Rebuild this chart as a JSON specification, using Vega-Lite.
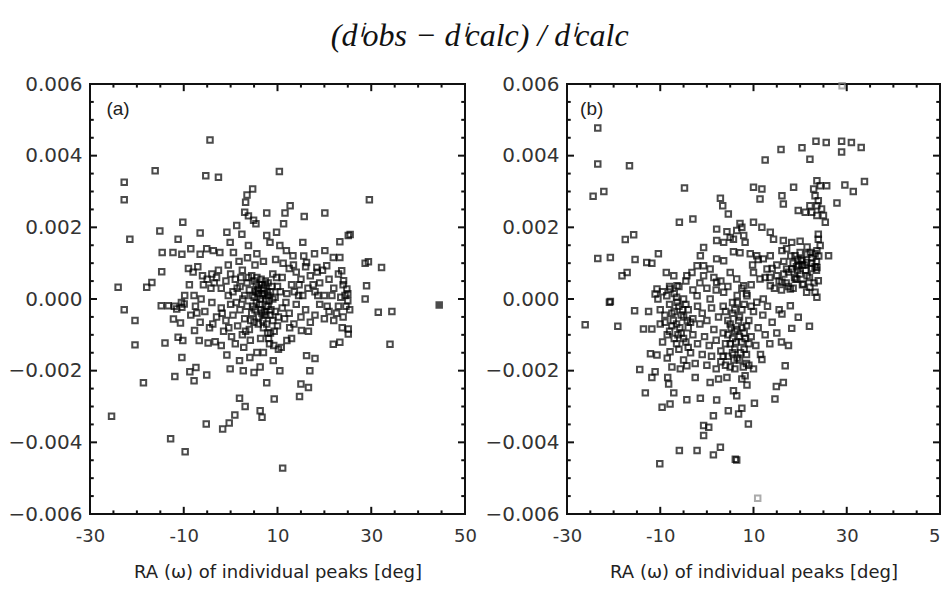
{
  "$schema": "https://vega.github.io/schema/vega-lite/v6.json",
  "background": "white",
  "padding": {"left": 6, "top": 20, "right": 0, "bottom": 0},
  "title": {"text": "(dⁱobs − dⁱcalc) / dⁱcalc", "font": "Liberation Serif", "fontStyle": "italic", "fontWeight": "normal", "fontSize": 32, "color": "#111", "anchor": "middle", "offset": 20},
  "config": {
    "view": {"stroke": "#111", "strokeWidth": 2},
    "axis": {"domain": false, "grid": false, "ticks": false, "labelFont": "DejaVu Sans", "labelFontSize": 18, "labelColor": "#333", "titleFont": "DejaVu Sans", "titleFontSize": 18, "titleFontWeight": "normal", "titleColor": "#222", "labelFlush": false, "labelOverlap": false},
    "rule": {"strokeWidth": 2, "color": "#111"}
  },
  "datasets": {
    "xt": [{"v": -30, "kind": "major"}, {"v": -25, "kind": "minor"}, {"v": -20, "kind": "minor"}, {"v": -15, "kind": "minor"}, {"v": -10, "kind": "major"}, {"v": -5, "kind": "minor"}, {"v": 0, "kind": "minor"}, {"v": 5, "kind": "minor"}, {"v": 10, "kind": "major"}, {"v": 15, "kind": "minor"}, {"v": 20, "kind": "minor"}, {"v": 25, "kind": "minor"}, {"v": 30, "kind": "major"}, {"v": 35, "kind": "minor"}, {"v": 40, "kind": "minor"}, {"v": 45, "kind": "minor"}, {"v": 50, "kind": "major"}],
    "yt": [{"v": -0.006, "kind": "major"}, {"v": -0.0055, "kind": "minor"}, {"v": -0.005, "kind": "minor"}, {"v": -0.0045, "kind": "minor"}, {"v": -0.004, "kind": "major"}, {"v": -0.0035, "kind": "minor"}, {"v": -0.003, "kind": "minor"}, {"v": -0.0025, "kind": "minor"}, {"v": -0.002, "kind": "major"}, {"v": -0.0015, "kind": "minor"}, {"v": -0.001, "kind": "minor"}, {"v": -0.0005, "kind": "minor"}, {"v": 0, "kind": "major"}, {"v": 0.0005, "kind": "minor"}, {"v": 0.001, "kind": "minor"}, {"v": 0.0015, "kind": "minor"}, {"v": 0.002, "kind": "major"}, {"v": 0.0025, "kind": "minor"}, {"v": 0.003, "kind": "minor"}, {"v": 0.0035, "kind": "minor"}, {"v": 0.004, "kind": "major"}, {"v": 0.0045, "kind": "minor"}, {"v": 0.005, "kind": "minor"}, {"v": 0.0055, "kind": "minor"}, {"v": 0.006, "kind": "major"}],
    "a": [
      {"ra": -4.4, "d": 0.00444}, {"ra": -16.1, "d": 0.00358}, {"ra": -22.7, "d": 0.00326}, {"ra": -22.7, "d": 0.00277}, {"ra": -5.3, "d": 0.00344}, {"ra": -2.6, "d": 0.0034}, {"ra": 10.4, "d": 0.00356}, {"ra": 29.6, "d": 0.00277}, {"ra": 4.7, "d": 0.00307}, {"ra": 3.5, "d": 0.0029}, {"ra": 3.2, "d": 0.0027}, {"ra": 3.0, "d": 0.00242}, {"ra": 3.8, "d": 0.00232}, {"ra": 4.9, "d": 0.0022}, {"ra": 5.4, "d": 0.0021}, {"ra": 7.7, "d": 0.0024}, {"ra": 12.7, "d": 0.0026}, {"ra": 11.6, "d": 0.0024}, {"ra": 11.3, "d": 0.0021}, {"ra": 15.7, "d": 0.0023}, {"ra": 20.1, "d": 0.0024}, {"ra": -10.2, "d": 0.00214}, {"ra": -15.1, "d": 0.0019}, {"ra": -6.5, "d": 0.00184}, {"ra": -21.5, "d": 0.00167}, {"ra": -11.2, "d": 0.00167}, {"ra": -14.6, "d": 0.0013}, {"ra": -12.3, "d": 0.0013}, {"ra": -10.4, "d": 0.00125}, {"ra": -8.5, "d": 0.0014}, {"ra": -14.7, "d": 0.00076}, {"ra": -16.8, "d": 0.00046}, {"ra": -17.9, "d": 0.00033}, {"ra": -24.0, "d": 0.00033}, {"ra": 25.5, "d": 0.0018}, {"ra": 23.3, "d": 0.0016}, {"ra": 29.4, "d": 0.00104}, {"ra": 28.7, "d": 0.001}, {"ra": 32.2, "d": 0.00088}, {"ra": 29.0, "d": 0.00037}, {"ra": 28.7, "d": 0.0}, {"ra": 44.5, "d": -0.00017, "f": 1},
      {"ra": -22.7, "d": -0.0003}, {"ra": -20.4, "d": -0.0006}, {"ra": -20.4, "d": -0.00128}, {"ra": -18.6, "d": -0.00234}, {"ra": -25.4, "d": -0.00327}, {"ra": -12.8, "d": -0.0039}, {"ra": -9.7, "d": -0.00426}, {"ra": 11.1, "d": -0.00472}, {"ra": -5.2, "d": -0.00349}, {"ra": -1.7, "d": -0.00363}, {"ra": -0.3, "d": -0.00346}, {"ra": 0.9, "d": -0.00324}, {"ra": 1.9, "d": -0.00277}, {"ra": 3.1, "d": -0.003}, {"ra": 6.3, "d": -0.00312}, {"ra": 6.7, "d": -0.0033}, {"ra": 9.3, "d": -0.00279}, {"ra": 7.7, "d": -0.00234}, {"ra": 14.7, "d": -0.00272}, {"ra": 15.0, "d": -0.00237}, {"ra": 16.6, "d": -0.00247}, {"ra": 16.9, "d": -0.002}, {"ra": 16.2, "d": -0.00158}, {"ra": 18.0, "d": -0.00166}, {"ra": -11.9, "d": -0.00216}, {"ra": -8.7, "d": -0.00203}, {"ra": -7.8, "d": -0.00228}, {"ra": -7.4, "d": -0.00191}, {"ra": -5.1, "d": -0.00212}, {"ra": -10.4, "d": -0.00163}, {"ra": -0.1, "d": -0.00195}, {"ra": 2.7, "d": -0.002}, {"ra": 5.0, "d": -0.00205}, {"ra": 6.3, "d": -0.0019}, {"ra": 10.5, "d": -0.002}, {"ra": -14.0, "d": -0.00123}, {"ra": -11.2, "d": -0.00107}, {"ra": -10.2, "d": -0.00116}, {"ra": -7.7, "d": -0.00088}, {"ra": -6.7, "d": -0.00116}, {"ra": -4.8, "d": -0.00123}, {"ra": -3.3, "d": -0.00119}, {"ra": 34.0, "d": -0.00126}, {"ra": 31.5, "d": -0.00037}, {"ra": 34.4, "d": -0.00035}, {"ra": 21.9, "d": -0.00126}, {"ra": 23.3, "d": -0.00121}, {"ra": 25.1, "d": -0.00084}, {"ra": 25.1, "d": -0.00098}, {"ra": -14.8, "d": -0.00019}, {"ra": -13.3, "d": -0.00019}, {"ra": -11.5, "d": -0.00028}, {"ra": -10.4, "d": -0.00023}, {"ra": -9.9, "d": -0.00014}, {"ra": -12.2, "d": -0.00056}, {"ra": -10.7, "d": -0.00067}, {"ra": -7.2, "d": -0.00039}, {"ra": 12.0, "d": -0.00116}, {"ra": 15.1, "d": -0.00088},
      {"ra": -0.8, "d": -0.00156}, {"ra": 1.9, "d": -0.00172}, {"ra": 4.1, "d": -0.00163}, {"ra": 5.6, "d": -0.00149}, {"ra": 7.0, "d": -0.00149}, {"ra": 9.1, "d": -0.00172}, {"ra": 10.2, "d": -0.0014},
      {"ra": -5.1, "d": 0.0014}, {"ra": -3.7, "d": 0.00135}, {"ra": -2.3, "d": 0.0013}, {"ra": -0.8, "d": 0.00186}, {"ra": -0.1, "d": 0.00158}, {"ra": 0.6, "d": 0.0013}, {"ra": 1.3, "d": 0.00205}, {"ra": 2.4, "d": 0.00181}, {"ra": 3.8, "d": 0.00149}, {"ra": 5.6, "d": 0.00126}, {"ra": 7.7, "d": 0.00177}, {"ra": 8.4, "d": 0.00158}, {"ra": 9.8, "d": 0.00186}, {"ra": 10.5, "d": 0.00149}, {"ra": 11.9, "d": 0.00135}, {"ra": 13.3, "d": 0.00121}, {"ra": 15.4, "d": 0.00158}, {"ra": 17.9, "d": 0.00126}, {"ra": 20.1, "d": 0.00135}, {"ra": 21.9, "d": 0.00116}, {"ra": 23.3, "d": 0.00116}, {"ra": 25.1, "d": 0.00177}, {"ra": 16.2, "d": 0.00102}, {"ra": 18.4, "d": 0.00088}, {"ra": 20.5, "d": 0.00093}, {"ra": 23.7, "d": 0.00079}, {"ra": 24.1, "d": 0.00051}, {"ra": 24.8, "d": 0.00028},
      {"ra": -9.0, "d": 0.00085}, {"ra": -8.0, "d": 0.00075}, {"ra": -7.0, "d": 0.0009}, {"ra": -6.0, "d": 0.00065}, {"ra": -5.0, "d": 0.00055}, {"ra": -4.0, "d": 0.0007}, {"ra": -3.5, "d": 0.00045}, {"ra": -3.0, "d": 0.0006}, {"ra": -2.0, "d": 0.0003}, {"ra": -1.0, "d": 0.0005}, {"ra": 0.0, "d": 0.0007}, {"ra": 0.5, "d": 0.0002}, {"ra": 1.0, "d": 0.00055}, {"ra": 2.0, "d": 0.00035}, {"ra": 2.5, "d": 0.0008}, {"ra": 3.0, "d": 0.0001}, {"ra": 3.5, "d": 0.00045}, {"ra": 4.0, "d": 0.00025}, {"ra": 4.5, "d": 0.00065}, {"ra": 5.0, "d": 0.00005}, {"ra": 5.5, "d": 0.0004}, {"ra": 6.0, "d": 0.00015}, {"ra": 6.5, "d": 0.00055}, {"ra": 7.0, "d": 0.0003}, {"ra": 7.5, "d": 0.0}, {"ra": 8.0, "d": 0.00045}, {"ra": 8.5, "d": 0.0002}, {"ra": 9.0, "d": 0.0007}, {"ra": 9.5, "d": 0.00005}, {"ra": 10.0, "d": 0.00035}, {"ra": 11.0, "d": 0.0006}, {"ra": 12.0, "d": 0.00015}, {"ra": 12.5, "d": 0.00085}, {"ra": 13.0, "d": 0.0004}, {"ra": 14.0, "d": 0.00075}, {"ra": 14.5, "d": 0.0001}, {"ra": 15.0, "d": 0.00055}, {"ra": 16.0, "d": 0.0009}, {"ra": 16.5, "d": 0.0003}, {"ra": 17.0, "d": 0.00065}, {"ra": 18.0, "d": 0.0002}, {"ra": 18.5, "d": 0.00075}, {"ra": 19.0, "d": 0.00045}, {"ra": 20.0, "d": 0.0001}, {"ra": 21.0, "d": 0.00055}, {"ra": 22.0, "d": 0.0003}, {"ra": 23.0, "d": 0.0007}, {"ra": 23.5, "d": 0.00005}, {"ra": 24.0, "d": 0.0004}, {"ra": 25.0, "d": 0.00015},
      {"ra": -8.5, "d": -0.00045}, {"ra": -7.5, "d": -0.0002}, {"ra": -6.5, "d": -0.00065}, {"ra": -5.5, "d": -0.00035}, {"ra": -4.5, "d": -0.0008}, {"ra": -4.0, "d": -0.0001}, {"ra": -3.0, "d": -0.0005}, {"ra": -2.0, "d": -0.00025}, {"ra": -1.5, "d": -0.0009}, {"ra": -1.0, "d": -0.0006}, {"ra": 0.0, "d": -0.00015}, {"ra": 0.5, "d": -0.00045}, {"ra": 1.5, "d": -0.00075}, {"ra": 2.0, "d": -0.0003}, {"ra": 2.5, "d": -0.001}, {"ra": 3.0, "d": -0.00055}, {"ra": 3.5, "d": -0.0002}, {"ra": 4.0, "d": -0.00085}, {"ra": 4.5, "d": -0.0004}, {"ra": 5.0, "d": -0.00065}, {"ra": 5.5, "d": -0.0001}, {"ra": 6.0, "d": -0.0005}, {"ra": 6.5, "d": -0.0003}, {"ra": 7.0, "d": -0.0008}, {"ra": 7.5, "d": -0.00045}, {"ra": 8.0, "d": -0.0002}, {"ra": 8.5, "d": -0.00095}, {"ra": 9.0, "d": -0.0006}, {"ra": 9.5, "d": -0.00035}, {"ra": 10.0, "d": -0.00075}, {"ra": 11.0, "d": -0.00025}, {"ra": 11.5, "d": -0.00055}, {"ra": 12.5, "d": -0.0004}, {"ra": 13.5, "d": -0.0007}, {"ra": 14.0, "d": -0.00015}, {"ra": 15.0, "d": -0.0005}, {"ra": 16.0, "d": -0.0003}, {"ra": 17.0, "d": -0.00065}, {"ra": 18.0, "d": -0.00045}, {"ra": 19.0, "d": -0.00015}, {"ra": 20.0, "d": -0.00055}, {"ra": 21.0, "d": -0.00035}, {"ra": 22.0, "d": -0.0006}, {"ra": 23.0, "d": -0.0002}, {"ra": 24.0, "d": -0.0005}, {"ra": 25.0, "d": -0.00005},
      {"ra": 5.8, "d": 0.00025}, {"ra": 6.2, "d": -0.00015}, {"ra": 6.8, "d": 0.0001}, {"ra": 7.2, "d": -0.00035}, {"ra": 7.8, "d": 0.0002}, {"ra": 8.2, "d": -0.00005}, {"ra": 8.8, "d": 0.00035}, {"ra": 5.2, "d": -0.0003}, {"ra": 6.6, "d": 0.0004}, {"ra": 7.4, "d": 0.0005}, {"ra": 8.4, "d": -0.00045}, {"ra": 5.6, "d": 0.0006}, {"ra": 6.9, "d": -0.0006}, {"ra": 7.7, "d": -0.0007}, {"ra": 8.1, "d": -0.0011}, {"ra": 8.3, "d": -0.00125}, {"ra": 7.9, "d": -0.00095}, {"ra": 6.4, "d": -0.0011}, {"ra": 9.2, "d": -0.0013}, {"ra": 4.2, "d": -0.00115}, {"ra": 2.8, "d": -0.00135}, {"ra": 1.0, "d": -0.00125}, {"ra": 0.2, "d": -0.00105}, {"ra": -2.0, "d": -0.0013}, {"ra": 10.8, "d": -0.00135}, {"ra": 13.0, "d": -0.0011}, {"ra": -0.5, "d": 0.00095}, {"ra": 1.8, "d": 0.00105}, {"ra": 3.6, "d": 0.00115}, {"ra": 5.2, "d": 0.00095}, {"ra": 7.0, "d": 0.00105}, {"ra": 9.6, "d": 0.0011}, {"ra": 11.2, "d": 0.001}, {"ra": 13.4, "d": 0.00095}, {"ra": 15.6, "d": 0.0012}, {"ra": -6.5, "d": 0.00125}, {"ra": -8.8, "d": 0.0004}, {"ra": -9.8, "d": 0.0001}, {"ra": -10.5, "d": -0.0001}, {"ra": -12.0, "d": -0.0002},
      {"ra": 6.0, "d": 0.0003}, {"ra": 6.4, "d": 0.0}, {"ra": 7.1, "d": 0.00015}, {"ra": 7.6, "d": -0.0002}, {"ra": 8.0, "d": 0.0001}, {"ra": 5.4, "d": 0.0002}, {"ra": 6.7, "d": -0.0004}, {"ra": 7.3, "d": 0.0004}, {"ra": 8.6, "d": -0.0003}, {"ra": 5.9, "d": -0.0007}, {"ra": 4.6, "d": 0.0001}, {"ra": 9.0, "d": 0.0}, {"ra": 4.8, "d": -0.0002}, {"ra": 3.8, "d": 0.0006}, {"ra": 2.6, "d": 0.0}, {"ra": 1.4, "d": 0.0003}, {"ra": -0.5, "d": 0.0001}, {"ra": -2.6, "d": 0.0008}, {"ra": -4.2, "d": 0.0003}, {"ra": -6.3, "d": 0.0}, {"ra": 10.6, "d": 0.0002}, {"ra": 11.8, "d": -0.0001}, {"ra": 13.6, "d": 0.0002}, {"ra": 15.4, "d": 0.0001}, {"ra": 17.6, "d": 0.0004}, {"ra": 19.6, "d": 0.0008}, {"ra": 21.6, "d": 0.0001}, {"ra": 22.6, "d": -0.0004}, {"ra": 24.6, "d": -0.0002}, {"ra": 20.6, "d": -0.0002},
      {"ra": 4.3, "d": -0.0006}, {"ra": 5.1, "d": 0.0005}, {"ra": 9.3, "d": -0.0009}, {"ra": 9.8, "d": 0.0006}, {"ra": 3.2, "d": -0.0009}, {"ra": 2.2, "d": 0.0006}, {"ra": -1.8, "d": -0.0004}, {"ra": -3.8, "d": -0.0007}, {"ra": -5.8, "d": 0.0004}, {"ra": -7.8, "d": 0.0001}, {"ra": 12.6, "d": -0.0008}, {"ra": 14.6, "d": 0.0004}, {"ra": 16.6, "d": -0.0009}, {"ra": 18.6, "d": 0.0001}, {"ra": 23.8, "d": -0.0008}, {"ra": 24.4, "d": 0.0001}, {"ra": 25.4, "d": -0.0003}, {"ra": 1.2, "d": -0.0001}, {"ra": -0.4, "d": -0.0008}, {"ra": 10.2, "d": -0.0005}
    ],
    "b": [
      {"ra": -23.4, "d": 0.00477}, {"ra": -23.4, "d": 0.00377}, {"ra": -24.4, "d": 0.00287}, {"ra": -22.1, "d": 0.003}, {"ra": -16.6, "d": 0.00372}, {"ra": -4.8, "d": 0.0031}, {"ra": -5.9, "d": 0.00214}, {"ra": -3.0, "d": 0.00223}, {"ra": -17.5, "d": 0.00166}, {"ra": -15.7, "d": 0.00179}, {"ra": -23.4, "d": 0.00113}, {"ra": -20.7, "d": 0.00116}, {"ra": -15.4, "d": 0.0011}, {"ra": -11.8, "d": 0.001}, {"ra": -10.4, "d": 0.00126}, {"ra": -12.9, "d": 0.00102}, {"ra": -18.2, "d": 0.00065}, {"ra": -17.1, "d": 0.00074}, {"ra": -20.7, "d": -0.00007}, {"ra": -8.7, "d": 0.00074},
      {"ra": 12.5, "d": 0.00388}, {"ra": 15.9, "d": 0.00417}, {"ra": 20.4, "d": 0.00422}, {"ra": 22.1, "d": 0.0039}, {"ra": 23.4, "d": 0.0044}, {"ra": 25.6, "d": 0.00437}, {"ra": 28.9, "d": 0.0044}, {"ra": 28.9, "d": 0.0041}, {"ra": 31.0, "d": 0.00437}, {"ra": 33.1, "d": 0.00423}, {"ra": 33.8, "d": 0.00328}, {"ra": 29.6, "d": 0.00318}, {"ra": 31.4, "d": 0.003}, {"ra": 27.9, "d": 0.00268}, {"ra": 10.0, "d": 0.00312}, {"ra": 11.8, "d": 0.00307}, {"ra": 11.4, "d": 0.00279}, {"ra": 16.1, "d": 0.00288}, {"ra": 16.4, "d": 0.00265}, {"ra": 18.6, "d": 0.00312}, {"ra": 29.0, "d": 0.00595, "g": 1},
      {"ra": 23.6, "d": 0.0033}, {"ra": 24.3, "d": 0.00316}, {"ra": 22.9, "d": 0.00307}, {"ra": 25.7, "d": 0.00316}, {"ra": 23.2, "d": 0.00288}, {"ra": 23.9, "d": 0.00274}, {"ra": 22.1, "d": 0.0026}, {"ra": 23.6, "d": 0.0026}, {"ra": 24.6, "d": 0.00251}, {"ra": 25.0, "d": 0.00233}, {"ra": 23.6, "d": 0.00233}, {"ra": 25.4, "d": 0.00214}, {"ra": 19.6, "d": 0.00247}, {"ra": 21.1, "d": 0.00242}, {"ra": 22.5, "d": 0.00242},
      {"ra": 23.9, "d": 0.00181}, {"ra": 23.9, "d": 0.00167}, {"ra": 24.3, "d": 0.00149}, {"ra": 23.6, "d": 0.00135}, {"ra": 23.2, "d": 0.00126}, {"ra": 26.1, "d": 0.00121}, {"ra": 20.4, "d": 0.00107}, {"ra": 19.6, "d": 0.00093}, {"ra": 18.2, "d": 0.00084}, {"ra": 21.4, "d": 0.00102}, {"ra": 23.6, "d": 0.00088}, {"ra": 23.9, "d": 0.00051}, {"ra": 23.2, "d": 0.00019}, {"ra": 22.1, "d": 0.00033}, {"ra": 21.4, "d": 0.00019}, {"ra": 23.6, "d": 0.00005},
      {"ra": 2.9, "d": 0.00281}, {"ra": 3.4, "d": 0.0026}, {"ra": 4.6, "d": 0.00237}, {"ra": 2.1, "d": 0.00195}, {"ra": 4.3, "d": 0.00188}, {"ra": 6.4, "d": 0.00191}, {"ra": 5.7, "d": 0.00167}, {"ra": 7.1, "d": 0.00211}, {"ra": 7.5, "d": 0.002}, {"ra": 7.9, "d": 0.00177}, {"ra": 10.0, "d": 0.00214}, {"ra": 11.8, "d": 0.002}, {"ra": 13.6, "d": 0.00186}, {"ra": 14.3, "d": 0.00167}, {"ra": 16.4, "d": 0.00163}, {"ra": 18.2, "d": 0.00158}, {"ra": 20.0, "d": 0.00161}, {"ra": -0.7, "d": 0.00144}, {"ra": 2.1, "d": 0.00163}, {"ra": 3.6, "d": 0.00158}, {"ra": 5.0, "d": 0.00172}, {"ra": 8.2, "d": 0.00158}, {"ra": 5.7, "d": 0.00132}, {"ra": 7.1, "d": 0.00129}, {"ra": 9.3, "d": 0.00126}, {"ra": 10.7, "d": 0.00121}, {"ra": 12.1, "d": 0.00112}, {"ra": 13.6, "d": 0.00121}, {"ra": 16.1, "d": 0.00135}, {"ra": 17.1, "d": 0.0014}, {"ra": 18.9, "d": 0.00121}, {"ra": -1.4, "d": 0.00121}, {"ra": -0.7, "d": 0.00093}, {"ra": 0.7, "d": 0.00084}, {"ra": 2.1, "d": 0.00112}, {"ra": 3.6, "d": 0.00107}, {"ra": -2.1, "d": 0.00093}, {"ra": -3.2, "d": 0.00074}, {"ra": -4.3, "d": 0.00065}, {"ra": -7.1, "d": 0.00065}, {"ra": -6.4, "d": 0.00037}, {"ra": -7.9, "d": 0.00028}, {"ra": -10.7, "d": 0.00028}, {"ra": -11.1, "d": 0.00014}, {"ra": -8.6, "d": 0.00009},
      {"ra": -0.7, "d": 0.00065}, {"ra": 2.1, "d": 0.00047}, {"ra": 5.0, "d": 0.00074}, {"ra": 6.4, "d": 0.00056}, {"ra": 7.9, "d": 0.00037}, {"ra": 8.6, "d": 0.00009}, {"ra": 10.0, "d": 0.00074}, {"ra": 11.4, "d": 0.00056}, {"ra": 12.9, "d": 0.00084}, {"ra": 13.6, "d": 0.00037}, {"ra": 15.0, "d": 0.00065}, {"ra": 16.1, "d": 0.00047}, {"ra": 17.1, "d": 0.00084}, {"ra": 17.9, "d": 0.00028}, {"ra": 19.3, "d": 0.00056}, {"ra": 20.7, "d": 0.00042}, {"ra": 12.1, "d": 0.0}, {"ra": 10.7, "d": -0.00009}, {"ra": -5.0, "d": 0.0}, {"ra": -6.4, "d": -0.00009}, {"ra": -2.1, "d": 0.00009}, {"ra": 0.7, "d": 0.0}, {"ra": 3.6, "d": 0.00019},
      {"ra": -26.1, "d": -0.00072}, {"ra": -19.1, "d": -0.00076}, {"ra": -20.9, "d": -0.00009}, {"ra": -15.5, "d": -0.00033}, {"ra": -12.5, "d": -0.00035}, {"ra": -13.6, "d": -0.00084}, {"ra": -11.8, "d": -0.00084}, {"ra": -12.1, "d": -0.00153}, {"ra": -10.7, "d": -0.00156}, {"ra": -7.9, "d": -0.00147}, {"ra": -14.4, "d": -0.00197}, {"ra": -11.8, "d": -0.00219}, {"ra": -11.1, "d": -0.00203}, {"ra": -13.2, "d": -0.00262}, {"ra": -10.1, "d": -0.0046}, {"ra": -5.9, "d": -0.00423}, {"ra": -2.1, "d": -0.00423}, {"ra": 1.4, "d": -0.00435}, {"ra": 2.9, "d": -0.00414}, {"ra": 6.1, "d": -0.00447}, {"ra": 6.4, "d": -0.00449}, {"ra": 10.9, "d": -0.00556, "g": 1}, {"ra": -0.7, "d": -0.00353}, {"ra": -0.7, "d": -0.00381}, {"ra": 0.4, "d": -0.00358}, {"ra": 1.4, "d": -0.00326}, {"ra": 4.6, "d": -0.00312}, {"ra": 6.8, "d": -0.00321}, {"ra": 7.5, "d": -0.00305}, {"ra": 8.9, "d": -0.00349}, {"ra": 10.2, "d": -0.00291}, {"ra": -9.6, "d": -0.00302}, {"ra": -7.9, "d": -0.00293}, {"ra": -7.1, "d": -0.00262}, {"ra": -4.3, "d": -0.00281}, {"ra": -1.4, "d": -0.00277}, {"ra": 2.1, "d": -0.00282}, {"ra": -8.4, "d": -0.00219}, {"ra": -8.2, "d": -0.00237}, {"ra": 14.6, "d": -0.00279}, {"ra": 14.9, "d": -0.00244}, {"ra": 16.4, "d": -0.00233}, {"ra": 16.8, "d": -0.00186}, {"ra": 17.5, "d": -0.0013}, {"ra": 18.2, "d": -0.00082}, {"ra": 19.6, "d": -0.00051}, {"ra": 22.0, "d": -0.00076}, {"ra": 11.8, "d": -0.00169}, {"ra": 10.0, "d": -0.00195},
      {"ra": -5.7, "d": -0.00195}, {"ra": -4.3, "d": -0.00186}, {"ra": -2.5, "d": -0.00219}, {"ra": 0.7, "d": -0.00233}, {"ra": 2.5, "d": -0.00223}, {"ra": 4.3, "d": -0.00219}, {"ra": 5.7, "d": -0.00256}, {"ra": 6.4, "d": -0.0027}, {"ra": 8.6, "d": -0.0024}, {"ra": 7.5, "d": -0.00223}, {"ra": 8.2, "d": -0.00214}, {"ra": 17.9, "d": -0.00019}, {"ra": 16.1, "d": -0.00042},
      {"ra": -8.0, "d": -0.0009}, {"ra": -7.5, "d": -0.0004}, {"ra": -7.0, "d": -0.0011}, {"ra": -6.5, "d": -0.0007}, {"ra": -6.0, "d": -0.0002}, {"ra": -6.0, "d": -0.0014}, {"ra": -5.5, "d": -0.00095}, {"ra": -5.0, "d": -0.0005}, {"ra": -5.0, "d": -0.0017}, {"ra": -4.5, "d": -0.0012}, {"ra": -4.0, "d": -0.0003}, {"ra": -4.0, "d": -0.0008}, {"ra": -3.5, "d": -0.0015}, {"ra": -3.0, "d": -0.001}, {"ra": -3.0, "d": -0.00055}, {"ra": -2.5, "d": -0.0018}, {"ra": -2.0, "d": -0.0002}, {"ra": -2.0, "d": -0.00125}, {"ra": -1.5, "d": -0.0007}, {"ra": -1.0, "d": -0.00155}, {"ra": -1.0, "d": -0.0004}, {"ra": -0.5, "d": -0.00105}, {"ra": 0.0, "d": -0.00185}, {"ra": 0.0, "d": -0.0006}, {"ra": 0.5, "d": -0.0013}, {"ra": 1.0, "d": -0.00025}, {"ra": 1.0, "d": -0.0016}, {"ra": 1.5, "d": -0.00085}, {"ra": 2.0, "d": -0.00115}, {"ra": 2.0, "d": -0.00195}, {"ra": 2.5, "d": -0.0005}, {"ra": 3.0, "d": -0.00145}, {"ra": 3.0, "d": -0.00175}, {"ra": 3.5, "d": -0.00095}, {"ra": 4.0, "d": -0.00125}, {"ra": 4.0, "d": -0.00035}, {"ra": 4.5, "d": -0.0016}, {"ra": 5.0, "d": -0.0007}, {"ra": 5.0, "d": -0.0019}, {"ra": 5.5, "d": -0.0011}, {"ra": 6.0, "d": -0.0003}, {"ra": 6.0, "d": -0.0014}, {"ra": 6.5, "d": -0.00085}, {"ra": 7.0, "d": -0.0017}, {"ra": 7.0, "d": -0.0005}, {"ra": 7.5, "d": -0.0012}, {"ra": 8.0, "d": -0.00015}, {"ra": 8.0, "d": -0.00095}, {"ra": 8.5, "d": -0.00155}, {"ra": 9.0, "d": -0.0006}, {"ra": 9.0, "d": -0.00185}, {"ra": 9.5, "d": -0.00105}, {"ra": 10.0, "d": -0.00035}, {"ra": 10.5, "d": -0.0013}, {"ra": 11.0, "d": -0.0008}, {"ra": 11.5, "d": -0.00155}, {"ra": 12.0, "d": -0.00045}, {"ra": 12.5, "d": -0.001}, {"ra": 13.0, "d": -0.0002}, {"ra": 13.5, "d": -0.00125}, {"ra": 14.0, "d": -0.00065}, {"ra": 15.0, "d": -0.00095}, {"ra": 15.5, "d": -0.0003}, {"ra": 16.0, "d": -0.0012},
      {"ra": 5.5, "d": -0.0001}, {"ra": 6.5, "d": 0.0001}, {"ra": 7.5, "d": 0.0003}, {"ra": 8.5, "d": 0.00015}, {"ra": 9.5, "d": 0.0004}, {"ra": 4.5, "d": 0.00035}, {"ra": 3.0, "d": 0.0005}, {"ra": 2.0, "d": 0.00025}, {"ra": 1.5, "d": 0.0006}, {"ra": 0.0, "d": 0.0003}, {"ra": -1.5, "d": 0.00045}, {"ra": -3.0, "d": 0.00025}, {"ra": -4.5, "d": 0.0005}, {"ra": -6.0, "d": 0.00035}, {"ra": -7.0, "d": 0.00015}, {"ra": -8.0, "d": -0.00015}, {"ra": -9.0, "d": -0.00045}, {"ra": -10.0, "d": -0.0007}, {"ra": -9.5, "d": -0.0012}, {"ra": -8.5, "d": -0.00165}, {"ra": -7.5, "d": -0.0019},
      {"ra": 9.8, "d": 0.00095}, {"ra": 11.0, "d": 0.0011}, {"ra": 12.5, "d": 0.0006}, {"ra": 14.0, "d": 0.00085}, {"ra": 15.5, "d": 0.0005}, {"ra": 16.5, "d": 0.0007}, {"ra": 17.5, "d": 0.00035}, {"ra": 18.5, "d": 0.001}, {"ra": 19.5, "d": 0.0008}, {"ra": 20.5, "d": 0.00095}, {"ra": 21.5, "d": 0.00065}, {"ra": 22.5, "d": 0.00085}, {"ra": 23.5, "d": 0.00105}, {"ra": 20.0, "d": 0.0013}, {"ra": 21.5, "d": 0.00145}, {"ra": 22.5, "d": 0.00115},
      {"ra": 16.5, "d": 0.00105}, {"ra": 17.5, "d": 0.00075}, {"ra": 18.0, "d": 0.0012}, {"ra": 19.0, "d": 0.00055}, {"ra": 19.5, "d": 0.0011}, {"ra": 20.0, "d": 0.0007}, {"ra": 20.5, "d": 0.0004}, {"ra": 21.0, "d": 0.00095}, {"ra": 21.5, "d": 0.00125}, {"ra": 22.0, "d": 0.0006}, {"ra": 22.5, "d": 0.001}, {"ra": 23.0, "d": 0.00045}, {"ra": 23.5, "d": 0.0008}, {"ra": 24.0, "d": 0.0012}, {"ra": 18.5, "d": 0.0003}, {"ra": 17.0, "d": 0.00045}, {"ra": 16.0, "d": 0.00025}, {"ra": 15.0, "d": 0.00095}, {"ra": 14.5, "d": 0.0003}, {"ra": 13.5, "d": 0.0006},
      {"ra": -10.5, "d": 0.0}, {"ra": -10.0, "d": -0.0003}, {"ra": -9.5, "d": 0.0002}, {"ra": -9.0, "d": -0.00065}, {"ra": -8.5, "d": -0.001}, {"ra": -8.0, "d": 0.00035}, {"ra": -7.5, "d": -0.00075}, {"ra": -7.0, "d": -0.00035}, {"ra": -6.5, "d": -0.00125}, {"ra": -6.5, "d": 0.00005}, {"ra": -5.5, "d": -0.00045}, {"ra": -5.0, "d": -0.0011}, {"ra": -4.5, "d": -0.00015}, {"ra": -4.0, "d": -0.00135}, {"ra": -3.5, "d": -0.00065},
      {"ra": 3.5, "d": -0.0002}, {"ra": 4.5, "d": -0.0006}, {"ra": 5.5, "d": -0.0015}, {"ra": 6.0, "d": -0.0009}, {"ra": 6.5, "d": -0.00165}, {"ra": 7.0, "d": -0.00105}, {"ra": 7.5, "d": -0.0003}, {"ra": 8.0, "d": -0.0014}, {"ra": 8.5, "d": -0.00075}, {"ra": 9.0, "d": -0.00125}, {"ra": 3.5, "d": -0.0016}, {"ra": 4.5, "d": -0.001}, {"ra": 5.5, "d": -0.0004}, {"ra": 6.5, "d": -0.0001}, {"ra": 7.5, "d": -0.0008}, {"ra": 8.5, "d": -0.0018}, {"ra": 9.5, "d": -0.0002}, {"ra": 4.0, "d": -0.00185}, {"ra": 5.0, "d": -0.00125}, {"ra": 6.0, "d": -0.00195},
      {"ra": 5.2, "d": -0.0008}, {"ra": 6.2, "d": -0.0012}, {"ra": 7.2, "d": -0.0015}, {"ra": 8.2, "d": -0.0011}, {"ra": 5.8, "d": -0.0017}, {"ra": 6.8, "d": -0.0006}, {"ra": 7.8, "d": -0.0019}, {"ra": -7.2, "d": -0.0006}, {"ra": -6.2, "d": -0.001}, {"ra": -5.2, "d": -0.0003}, {"ra": -4.2, "d": -0.0006}, {"ra": -5.8, "d": -0.0008}, {"ra": 19.2, "d": 0.0009}, {"ra": 20.2, "d": 0.0011}, {"ra": 21.2, "d": 0.0008}, {"ra": 22.2, "d": 0.0013}, {"ra": 18.8, "d": 0.0006}, {"ra": 23.2, "d": 0.0009}
    ]
  },
  "spacing": 5,
  "hconcat": [
    {
      "width": 375, "height": 430,
      "layer": [
        {
          "data": {"name": "a"},
          "mark": {"type": "square", "filled": true, "size": 30, "strokeWidth": 2},
          "encoding": {
            "x": {"field": "ra", "type": "quantitative", "scale": {"domain": [-30, 50], "nice": false, "zero": false},
                  "axis": {"orient": "bottom", "values": [-30, -10, 10, 30, 50], "labelExpr": "'' + datum.value", "labelPadding": 13, "title": "RA (ω) of individual peaks [deg]", "titlePadding": 18}},
            "y": {"field": "d", "type": "quantitative", "scale": {"domain": [-0.006, 0.006], "nice": false, "zero": false},
                  "axis": {"orient": "left", "values": [-0.006, -0.004, -0.002, 0, 0.002, 0.004, 0.006], "format": ".3f", "labelFontSize": 20, "labelPadding": 8, "title": null}},
            "fill": {"condition": {"test": "datum.f == 1", "value": "#000"}, "value": "transparent"},
            "stroke": {"condition": {"test": "datum.g == 1", "value": "#888"}, "value": "#000"}
          }
        },
        {"data": {"name": "xt"}, "transform": [{"filter": "datum.kind == 'major'"}], "mark": "rule", "encoding": {"x": {"field": "v", "type": "quantitative"}, "y": {"datum": -0.006, "type": "quantitative"}, "y2": {"datum": -0.0058}}},
        {"data": {"name": "xt"}, "transform": [{"filter": "datum.kind == 'minor'"}], "mark": "rule", "encoding": {"x": {"field": "v", "type": "quantitative"}, "y": {"datum": -0.006, "type": "quantitative"}, "y2": {"datum": -0.0059}}},
        {"data": {"name": "xt"}, "transform": [{"filter": "datum.kind == 'major'"}], "mark": "rule", "encoding": {"x": {"field": "v", "type": "quantitative"}, "y": {"datum": 0.006, "type": "quantitative"}, "y2": {"datum": 0.0058}}},
        {"data": {"name": "xt"}, "transform": [{"filter": "datum.kind == 'minor'"}], "mark": "rule", "encoding": {"x": {"field": "v", "type": "quantitative"}, "y": {"datum": 0.006, "type": "quantitative"}, "y2": {"datum": 0.0059}}},
        {"data": {"name": "yt"}, "transform": [{"filter": "datum.kind == 'major'"}], "mark": "rule", "encoding": {"y": {"field": "v", "type": "quantitative"}, "x": {"datum": -30, "type": "quantitative"}, "x2": {"datum": -28.5}}},
        {"data": {"name": "yt"}, "transform": [{"filter": "datum.kind == 'minor'"}], "mark": "rule", "encoding": {"y": {"field": "v", "type": "quantitative"}, "x": {"datum": -30, "type": "quantitative"}, "x2": {"datum": -29.2}}},
        {"data": {"name": "yt"}, "transform": [{"filter": "datum.kind == 'major'"}], "mark": "rule", "encoding": {"y": {"field": "v", "type": "quantitative"}, "x": {"datum": 50, "type": "quantitative"}, "x2": {"datum": 48.5}}},
        {"data": {"name": "yt"}, "transform": [{"filter": "datum.kind == 'minor'"}], "mark": "rule", "encoding": {"y": {"field": "v", "type": "quantitative"}, "x": {"datum": 50, "type": "quantitative"}, "x2": {"datum": 49.2}}},
        {
          "data": {"values": [{"label": "(a)"}]},
          "mark": {"type": "text", "font": "Liberation Sans", "fontSize": 19, "color": "#222", "align": "left", "baseline": "middle"},
          "encoding": {
            "text": {"field": "label"},
            "x": {"datum": -26.5, "type": "quantitative"},
            "y": {"datum": 0.0053, "type": "quantitative"}
          }
        }
      ]
    },
    {
      "width": 373, "height": 430,
      "layer": [
        {
          "data": {"name": "b"},
          "mark": {"type": "square", "filled": true, "size": 30, "strokeWidth": 2},
          "encoding": {
            "x": {"field": "ra", "type": "quantitative", "scale": {"domain": [-30, 50], "nice": false, "zero": false},
                  "axis": {"orient": "bottom", "values": [-30, -10, 10, 30, 50], "labelExpr": "'' + datum.value", "labelPadding": 13, "title": "RA (ω) of individual peaks [deg]", "titlePadding": 18}},
            "y": {"field": "d", "type": "quantitative", "scale": {"domain": [-0.006, 0.006], "nice": false, "zero": false},
                  "axis": {"orient": "left", "values": [-0.006, -0.004, -0.002, 0, 0.002, 0.004, 0.006], "format": ".3f", "labelFontSize": 20, "labelPadding": 8, "title": null}},
            "fill": {"condition": {"test": "datum.f == 1", "value": "#000"}, "value": "transparent"},
            "stroke": {"condition": {"test": "datum.g == 1", "value": "#888"}, "value": "#000"}
          }
        },
        {"data": {"name": "xt"}, "transform": [{"filter": "datum.kind == 'major'"}], "mark": "rule", "encoding": {"x": {"field": "v", "type": "quantitative"}, "y": {"datum": -0.006, "type": "quantitative"}, "y2": {"datum": -0.0058}}},
        {"data": {"name": "xt"}, "transform": [{"filter": "datum.kind == 'minor'"}], "mark": "rule", "encoding": {"x": {"field": "v", "type": "quantitative"}, "y": {"datum": -0.006, "type": "quantitative"}, "y2": {"datum": -0.0059}}},
        {"data": {"name": "xt"}, "transform": [{"filter": "datum.kind == 'major'"}], "mark": "rule", "encoding": {"x": {"field": "v", "type": "quantitative"}, "y": {"datum": 0.006, "type": "quantitative"}, "y2": {"datum": 0.0058}}},
        {"data": {"name": "xt"}, "transform": [{"filter": "datum.kind == 'minor'"}], "mark": "rule", "encoding": {"x": {"field": "v", "type": "quantitative"}, "y": {"datum": 0.006, "type": "quantitative"}, "y2": {"datum": 0.0059}}},
        {"data": {"name": "yt"}, "transform": [{"filter": "datum.kind == 'major'"}], "mark": "rule", "encoding": {"y": {"field": "v", "type": "quantitative"}, "x": {"datum": -30, "type": "quantitative"}, "x2": {"datum": -28.5}}},
        {"data": {"name": "yt"}, "transform": [{"filter": "datum.kind == 'minor'"}], "mark": "rule", "encoding": {"y": {"field": "v", "type": "quantitative"}, "x": {"datum": -30, "type": "quantitative"}, "x2": {"datum": -29.2}}},
        {"data": {"name": "yt"}, "transform": [{"filter": "datum.kind == 'major'"}], "mark": "rule", "encoding": {"y": {"field": "v", "type": "quantitative"}, "x": {"datum": 50, "type": "quantitative"}, "x2": {"datum": 48.5}}},
        {"data": {"name": "yt"}, "transform": [{"filter": "datum.kind == 'minor'"}], "mark": "rule", "encoding": {"y": {"field": "v", "type": "quantitative"}, "x": {"datum": 50, "type": "quantitative"}, "x2": {"datum": 49.2}}},
        {
          "data": {"values": [{"label": "(b)"}]},
          "mark": {"type": "text", "font": "Liberation Sans", "fontSize": 19, "color": "#222", "align": "left", "baseline": "middle"},
          "encoding": {
            "text": {"field": "label"},
            "x": {"datum": -27.2, "type": "quantitative"},
            "y": {"datum": 0.0053, "type": "quantitative"}
          }
        }
      ]
    }
  ]
}
